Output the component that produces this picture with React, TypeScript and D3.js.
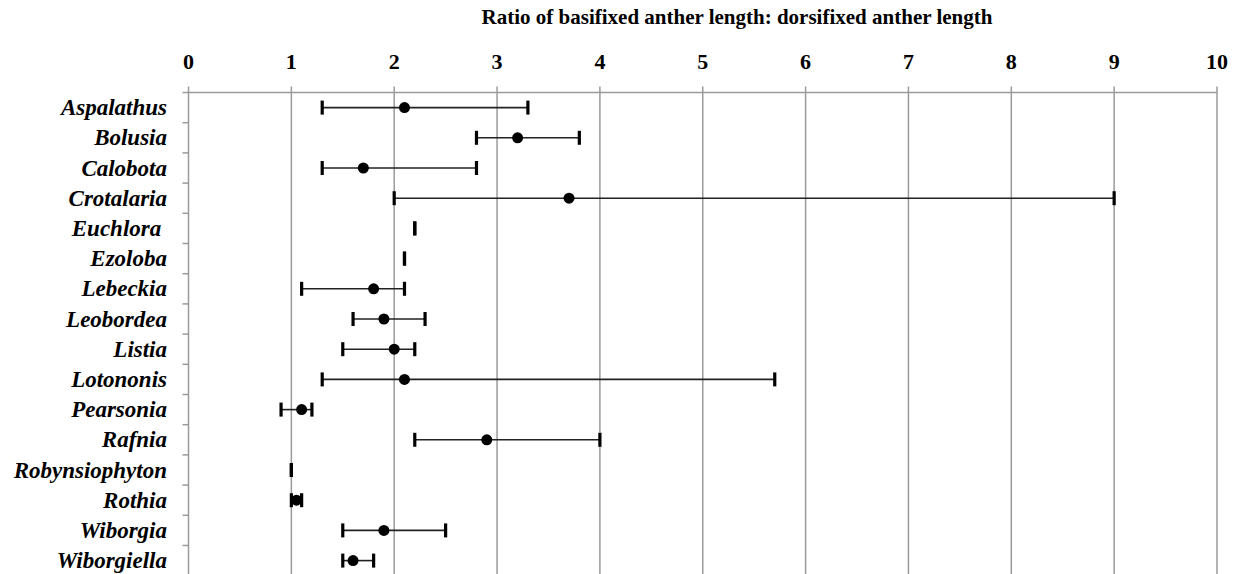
import React, { useEffect, useRef } from 'react';
import * as d3 from 'd3';

// genera, in order from top to bottom
const genera = [
  'Aspalathus', 'Bolusia', 'Calobota', 'Crotalaria', 'Euchlora ', 'Ezoloba',
  'Lebeckia', 'Leobordea', 'Listia', 'Lotononis', 'Pearsonia', 'Rafnia',
  'Robynsiophyton', 'Rothia', 'Wiborgia', 'Wiborgiella',
];
// ratio range (min / mean / max), null where no mean is drawn
const minRatio = [1.3, 2.8, 1.3, 2.0, 2.2, 2.1, 1.1, 1.6, 1.5, 1.3, 0.9, 2.2, 1.0, 1.0, 1.5, 1.5];
const meanRatio = [2.1, 3.2, 1.7, 3.7, null, null, 1.8, 1.9, 2.0, 2.1, 1.1, 2.9, null, 1.05, 1.9, 1.6];
const maxRatio = [3.3, 3.8, 2.8, 9.0, 2.2, 2.1, 2.1, 2.3, 2.2, 5.7, 1.2, 4.0, 1.0, 1.1, 2.5, 1.8];
const xTicks = [0, 1, 2, 3, 4, 5, 6, 7, 8, 9, 10];

const title = 'Ratio of basifixed anther length: dorsifixed anther length';

export default function App() {
  const ref = useRef<SVGSVGElement>(null);

  useEffect(() => {
    const width = 1236, height = 574;
    const top = 92.5, band = 30.2;
    const svg = d3.select(ref.current);
    svg.selectAll('*').remove();

    const x = d3.scaleLinear().domain([0, 10]).range([188.5, 1217]);
    const y = d3.scaleBand<string>().domain(genera).range([top, top + band * genera.length]);

    const serif = '"Liberation Serif", "Times New Roman", serif';

    // title
    svg.append('text')
      .attr('x', 737)
      .attr('y', 24)
      .attr('text-anchor', 'middle')
      .style('font', `bold 21px ${serif}`)
      .text(title);

    // vertical gridlines + ticks
    const grid = svg.append('g');
    grid.selectAll('line.grid')
      .data(xTicks)
      .enter()
      .append('line')
      .attr('class', 'grid')
      .attr('x1', (d) => x(d))
      .attr('x2', (d) => x(d))
      .attr('y1', top - 6)
      .attr('y2', height)
      .attr('stroke', '#9a9a9a')
      .attr('stroke-width', 1.5);

    // top axis line
    grid.append('line')
      .attr('x1', x(0) - 6)
      .attr('x2', x(10))
      .attr('y1', top)
      .attr('y2', top)
      .attr('stroke', '#9a9a9a')
      .attr('stroke-width', 1.5);

    // category separators on the left
    grid.selectAll('line.cat')
      .data(genera.slice(1))
      .enter()
      .append('line')
      .attr('class', 'cat')
      .attr('x1', x(0) - 6)
      .attr('x2', x(0))
      .attr('y1', (d) => y(d)!)
      .attr('y2', (d) => y(d)!)
      .attr('stroke', '#9a9a9a')
      .attr('stroke-width', 1.5);

    // tick labels
    svg.selectAll('text.tick')
      .data(xTicks)
      .enter()
      .append('text')
      .attr('class', 'tick')
      .attr('x', (d) => x(d))
      .attr('y', 69)
      .attr('text-anchor', 'middle')
      .style('font', `bold 22px ${serif}`)
      .text((d) => d);

    // category labels
    svg.selectAll('text.cat')
      .data(genera)
      .enter()
      .append('text')
      .attr('class', 'cat')
      .attr('x', 167)
      .attr('y', (d) => y(d)! + band / 2 + 7.5)
      .attr('text-anchor', 'end')
      .style('font', `italic bold 23px ${serif}`)
      .style('white-space', 'pre')
      .text((d) => d);

    // error bars
    const bars = svg.append('g')
      .selectAll('g')
      .data(genera)
      .enter()
      .append('g')
      .attr('transform', (d) => `translate(0,${y(d)! + band / 2})`);

    bars.append('line')
      .attr('x1', (d, i) => x(minRatio[i]))
      .attr('x2', (d, i) => x(maxRatio[i]))
      .attr('stroke', '#222')
      .attr('stroke-width', 1.6);

    bars.selectAll('line.cap')
      .data((d, i) => [minRatio[i], maxRatio[i]])
      .enter()
      .append('line')
      .attr('class', 'cap')
      .attr('x1', (v) => x(v))
      .attr('x2', (v) => x(v))
      .attr('y1', -7)
      .attr('y2', 7)
      .attr('stroke', '#000')
      .attr('stroke-width', 3.2);

    bars.filter((d, i) => meanRatio[i] !== null)
      .append('circle')
      .attr('cx', (d) => x(meanRatio[genera.indexOf(d)] as number))
      .attr('r', 5.5)
      .attr('fill', '#000');

    svg.attr('width', width).attr('height', height);
  }, []);

  return (
    <svg
      ref={ref}
      width={1236}
      height={574}
      style={{ position: 'absolute', left: 0, top: 0, background: '#fff' }}
    />
  );
}
